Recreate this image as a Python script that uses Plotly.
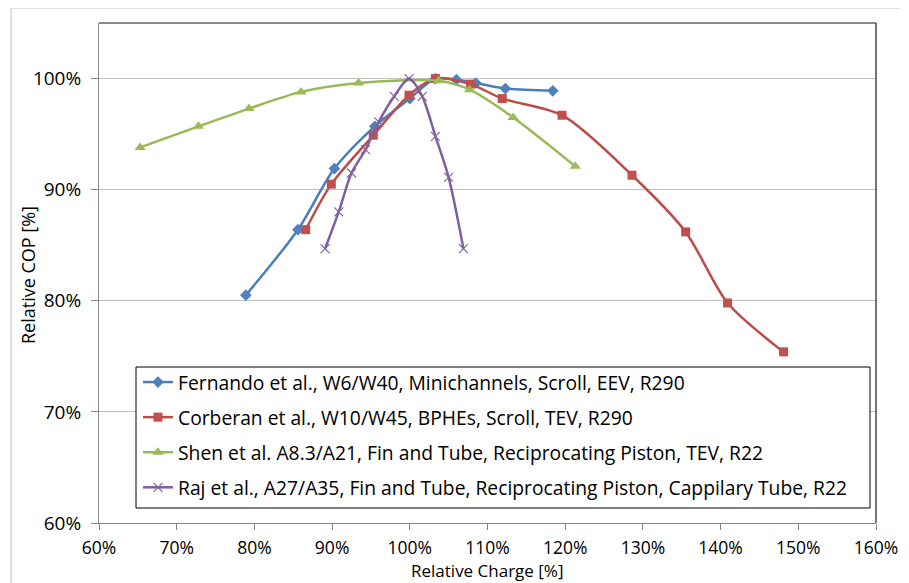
import plotly.graph_objects as go

# ---- data ----
fern_x = [78.9, 85.6, 90.3, 95.5, 100.0, 103.3, 106.0, 108.5, 112.3, 118.4]
fern_y = [80.5, 86.4, 91.9, 95.7, 98.2, 100.0, 99.9, 99.6, 99.1, 98.9]

corb_x = [86.6, 89.9, 95.3, 99.9, 103.3, 107.8, 111.9, 119.6, 128.6, 135.5, 140.9, 148.1]
corb_y = [86.4, 90.5, 94.9, 98.5, 100.0, 99.5, 98.2, 96.7, 91.3, 86.2, 79.8, 75.4]

shen_x = [65.3, 72.8, 79.3, 86.0, 93.4, 103.7, 107.7, 113.3, 121.3]
shen_y = [93.8, 95.7, 97.3, 98.8, 99.6, 99.8, 99.0, 96.5, 92.1]

raj_x = [89.1, 90.85, 92.5, 94.3, 96.0, 98.0, 99.9, 101.6, 103.3, 105.0, 106.9]
raj_y = [84.7, 88.0, 91.5, 93.6, 96.1, 98.4, 100.0, 98.4, 94.8, 91.1, 84.7]

names = [
    "Fernando et al., W6/W40, Minichannels, Scroll, EEV, R290",
    "Corberan et al., W10/W45, BPHEs, Scroll, TEV, R290",
    "Shen et al. A8.3/A21, Fin and Tube, Reciprocating Piston, TEV, R22",
    "Raj et al., A27/A35, Fin and Tube, Reciprocating Piston, Cappilary Tube, R22",
]

x_ticks = list(range(60, 161, 10))
y_ticks = list(range(60, 101, 10))
x_title = "Relative Charge [%]"
y_title = "Relative COP [%]"

FONT = "'Open Sans', Lato, sans-serif"

fig = go.Figure()

fig.add_trace(go.Scatter(
    x=fern_x, y=fern_y, name=names[0], mode="lines+markers",
    line=dict(color="#4A7EBB", width=2.5, shape="spline", smoothing=0.8),
    marker=dict(symbol="diamond", size=9, color="#4F81BD"),
    legendgroup="a"))
fig.add_trace(go.Scatter(
    x=corb_x, y=corb_y, name=names[1], mode="lines+markers",
    line=dict(color="#BE4B48", width=2.5, shape="spline", smoothing=0.8),
    marker=dict(symbol="square", size=9, color="#C0504D"),
    legendgroup="b"))
fig.add_trace(go.Scatter(
    x=shen_x, y=shen_y, name=names[2], mode="lines+markers",
    line=dict(color="#98B954", width=2.5, shape="spline", smoothing=0.8),
    marker=dict(symbol="triangle-up", size=10, color="#9BBB59"),
    legendgroup="c"))
fig.add_trace(go.Scatter(
    x=raj_x, y=raj_y, name=names[3], mode="lines+markers",
    line=dict(color="#7D60A0", width=2.5, shape="spline", smoothing=0.8),
    marker=dict(symbol="x-thin-open", size=9, color="#8064A2",
                line=dict(color="#8064A2", width=1.2)),
    legendgroup="d"))

# page body has an 8px margin: plot area in the window is x 99..876, y 23..523
W, H = 909, 583
OFF = 8
L, T = 99 - OFF, 23 - OFF
R = W - (876 - OFF)
B = H - (523 - OFF)
pw, ph = W - L - R, H - T - B

def px2x(vx):
    return (vx - OFF - L) / pw

def py2y(vy):
    return (H - B - (vy - OFF)) / ph

shapes = [
    # outer chart border
    dict(type="rect", xref="paper", yref="paper",
         x0=px2x(11), x1=px2x(904), y0=py2y(620), y1=py2y(8),
         line=dict(color="#BFBFBF", width=1), layer="below"),
    # plot frame top & right
    dict(type="line", xref="paper", yref="paper", x0=0, x1=1, y0=1, y1=1,
         line=dict(color="#1a1a1a", width=1.2)),
    dict(type="line", xref="paper", yref="paper", x0=1, x1=1, y0=0, y1=1,
         line=dict(color="#1a1a1a", width=1.2)),
    # legend box
    dict(type="rect", xref="paper", yref="paper",
         x0=px2x(136), x1=px2x(870), y0=py2y(508), y1=py2y(367),
         line=dict(color="#000000", width=1), fillcolor="white", layer="above"),
]

annotations = [
    dict(text=x_title, xref="paper", yref="paper",
         x=px2x(487), y=py2y(570), xanchor="center", yanchor="middle",
         showarrow=False, font=dict(family=FONT, size=17, color="#000")),
    dict(text=y_title, xref="paper", yref="paper", textangle=-90,
         x=px2x(28), y=py2y(275), xanchor="center", yanchor="middle",
         showarrow=False, font=dict(family=FONT, size=18, color="#000")),
]

fig.update_layout(
    width=W, height=H,
    margin=dict(l=L, r=R, t=T, b=B),
    paper_bgcolor="white", plot_bgcolor="white",
    font=dict(family=FONT, size=17, color="#000000"),
    shapes=shapes,
    annotations=annotations,
    showlegend=True,
    legend=dict(
        x=px2x(138), y=py2y(363), xanchor="left", yanchor="top",
        bgcolor="rgba(0,0,0,0)", borderwidth=0,
        font=dict(family=FONT, size=19.3, color="#000000"),
        traceorder="grouped", tracegroupgap=7, itemwidth=30,
    ),
    xaxis=dict(
        range=[60, 160], tickvals=x_ticks,
        ticktext=[f"{v}%" for v in x_ticks],
        showgrid=False, zeroline=False,
        showline=True, linecolor="#868686", linewidth=1,
        ticks="outside", ticklen=6, tickcolor="#868686",
        ticklabelstandoff=3,
        tickfont=dict(family=FONT, size=17.5),
    ),
    yaxis=dict(
        range=[60, 105], tickvals=y_ticks,
        ticktext=[f"{v}%" for v in y_ticks],
        showgrid=True, gridcolor="#C0C0C0", gridwidth=1.3,
        zeroline=False,
        showline=True, linecolor="#868686", linewidth=1,
        ticks="outside", ticklen=7, tickcolor="#868686",
        ticklabelstandoff=6,
        tickfont=dict(family=FONT, size=19),
    ),
)

fig.write_html("out.html")
